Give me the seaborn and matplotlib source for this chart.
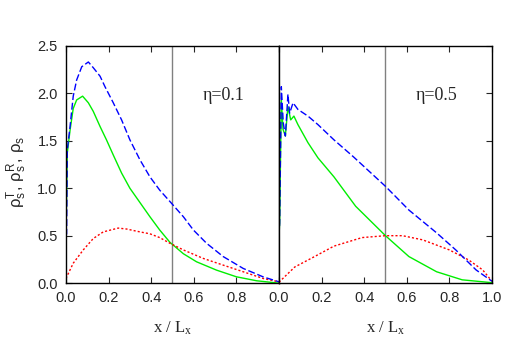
import numpy as np
import pandas as pd
import matplotlib
matplotlib.use("Agg")
import matplotlib.pyplot as plt
import seaborn as sns

# ── Data ──────────────────────────────────────────────────────────────────────
# eta = 0.1
L_X_TOT = [0.0, 0.003, 0.006, 0.019, 0.034, 0.05, 0.074, 0.105, 0.128, 0.16, 0.183,
           0.222, 0.261, 0.30, 0.347, 0.394, 0.44, 0.488, 0.551, 0.598, 0.66,
           0.738, 0.832, 0.926, 1.0]
L_TOT   = [0.5, 0.52, 1.40, 1.65, 1.97, 2.14, 2.28, 2.33, 2.27, 2.18, 2.07,
           1.90, 1.72, 1.51, 1.30, 1.12, 0.98, 0.86, 0.70, 0.56, 0.42,
           0.28, 0.155, 0.066, 0.014]
L_X_T   = [0.0, 0.006, 0.019, 0.034, 0.05, 0.078, 0.105, 0.128, 0.16, 0.19, 0.222,
           0.261, 0.30, 0.347, 0.394, 0.44, 0.488, 0.551, 0.613, 0.707, 0.80,
           0.895, 1.0]
L_T     = [0.52, 1.37, 1.61, 1.84, 1.93, 1.97, 1.90, 1.81, 1.65, 1.51, 1.35,
           1.16, 1.00, 0.85, 0.70, 0.56, 0.43, 0.31, 0.225, 0.137, 0.067,
           0.025, 0.0]
L_X_R   = [0.0, 0.034, 0.081, 0.128, 0.175, 0.245, 0.285, 0.347, 0.394, 0.44, 0.488,
           0.551, 0.645, 0.738, 0.832, 0.926, 1.0]
L_R     = [0.05, 0.21, 0.35, 0.47, 0.54, 0.58, 0.57, 0.54, 0.52, 0.48, 0.42,
           0.35, 0.26, 0.19, 0.12, 0.049, 0.014]

# eta = 0.5
R_X_TOT = [0.0, 0.003, 0.011, 0.02, 0.03, 0.042, 0.05, 0.066, 0.089, 0.136, 0.183,
           0.258, 0.35, 0.5, 0.61, 0.74, 0.83, 0.925, 1.0]
R_TOT   = [0.5, 0.63, 2.07, 1.69, 1.55, 1.99, 1.79, 1.90, 1.83, 1.76, 1.67,
           1.51, 1.33, 1.02, 0.77, 0.53, 0.35, 0.14, 0.02]
R_X_T   = [0.0, 0.003, 0.011, 0.019, 0.03, 0.042, 0.055, 0.07, 0.089, 0.136, 0.183,
           0.258, 0.36, 0.5, 0.61, 0.74, 0.86, 1.0]
R_T     = [0.5, 0.63, 1.93, 1.62, 1.55, 1.86, 1.72, 1.76, 1.67, 1.48, 1.32,
           1.12, 0.81, 0.50, 0.28, 0.12, 0.035, 0.005]
R_X_R   = [0.0, 0.074, 0.167, 0.258, 0.39, 0.5, 0.58, 0.675, 0.8, 0.89, 0.956, 1.0]
R_R     = [0.01, 0.17, 0.28, 0.39, 0.48, 0.50, 0.50, 0.456, 0.35, 0.245, 0.14, 0.02]

ETAS = ["η=0.1", "η=0.5"]
X_MARK = 0.5
X_TICKS = [0.0, 0.2, 0.4, 0.6, 0.8, 1.0]
Y_TICKS = [0.0, 0.5, 1.0, 1.5, 2.0, 2.5]

# ── Style ─────────────────────────────────────────────────────────────────────
sns.set_style("ticks")
plt.rcParams.update({
    "font.family": ["Liberation Sans", "DejaVu Sans"],
    "mathtext.fontset": "custom",
    "mathtext.rm": "Liberation Serif",
    "mathtext.sf": "Liberation Sans",
    "mathtext.it": "Liberation Sans:italic",
    "xtick.direction": "in", "ytick.direction": "in",
    "axes.edgecolor": "black", "axes.linewidth": 1.0,
})

fig = plt.figure(figsize=(5.25, 3.5), dpi=100)
ax_l = fig.add_axes([0.1257, 0.191, 0.4057, 0.678])
ax_r = fig.add_axes([0.5314, 0.191, 0.4057, 0.678], sharey=ax_l)

panels = [
    (ax_l, (L_X_TOT, L_TOT), (L_X_T, L_T), (L_X_R, L_R), ETAS[0]),
    (ax_r, (R_X_TOT, R_TOT), (R_X_T, R_T), (R_X_R, R_R), ETAS[1]),
]

for ax, tot, tr, rot, eta in panels:
    ax.axvline(X_MARK, color="#808080", linewidth=1.0, zorder=1)
    sns.lineplot(x=tr[0], y=tr[1], ax=ax, color="#00ee00", linewidth=1.0)
    sns.lineplot(x=rot[0], y=rot[1], ax=ax, color="#ff0000", linewidth=1.0,
                 linestyle=(0, (1.5, 1.5)))
    sns.lineplot(x=tot[0], y=tot[1], ax=ax, color="#0000ff", linewidth=1.0,
                 linestyle=(0, (5, 2)))
    ax.set_xlim(0, 1)
    ax.set_ylim(0, 2.5)
    ax.set_xticks(X_TICKS)
    ax.set_yticks(Y_TICKS)
    ax.tick_params(top=True, length=4, width=0.8, labelsize=10.5, pad=6)
    ax.text(0.74, 1.98, eta, transform=ax.get_yaxis_transform(), ha="center",
            va="center", fontsize=13, family="Liberation Serif")
    ax.set_xlabel(r"x / L$_\mathrm{x}$", family="Liberation Serif", fontsize=12,
                  labelpad=10)

ax_l.set_xticklabels([f"{t:.1f}" for t in X_TICKS[:-1]] + [""])
ax_l.set_yticklabels([f"{t:.1f}" for t in Y_TICKS])
ax_l.tick_params(right=False)
ax_l.set_ylabel(r"$\mathsf{ρ_s^T,\,ρ_s^R,\,ρ_s}$", fontsize=12, labelpad=5)
ax_l.yaxis.set_label_coords(-0.175, 0.47)

ax_r.set_xticklabels([f"{t:.1f}" for t in X_TICKS])
ax_r.tick_params(left=False, right=True, labelleft=False)

fig.savefig("out.png", dpi=100)
